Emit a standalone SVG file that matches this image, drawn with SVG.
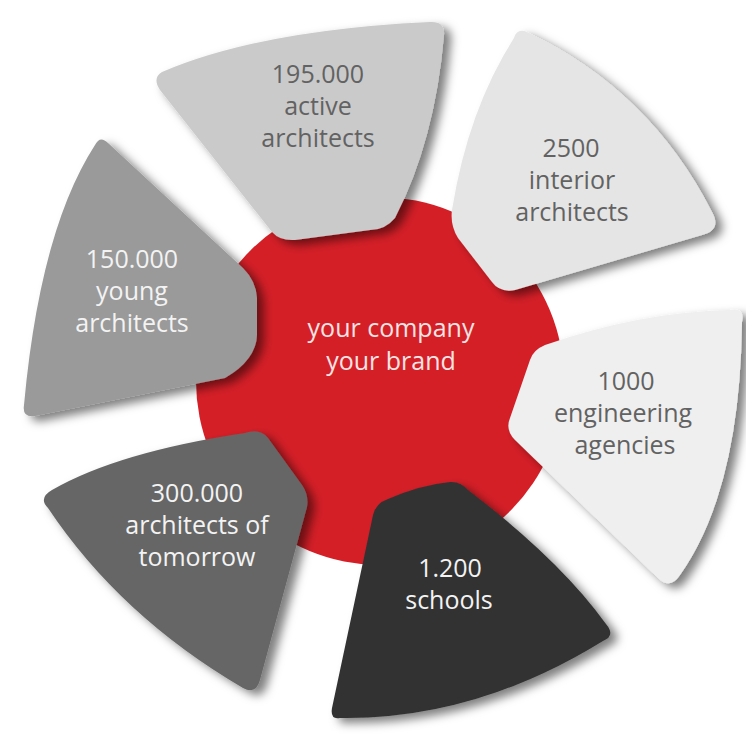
<svg xmlns="http://www.w3.org/2000/svg" width="746" height="734" viewBox="0 0 746 734">
<defs>
<filter id="sh" x="-20%" y="-20%" width="140%" height="140%">
<feDropShadow dx="7" dy="5" stdDeviation="5" flood-color="#000" flood-opacity="0.5"/>
</filter>
<style>
text{font-family:"Open Sans","Liberation Sans",sans-serif;font-size:25px;font-weight:500;text-anchor:middle}
.dk{fill:#626262}
.lt{fill:#f3f3f3}
.ct{fill:#f7e4e4}
</style>
</defs>
<rect width="746" height="734" fill="#ffffff"/>
<g id="center">
<circle cx="380" cy="381" r="184" fill="#d51f27"/>
<text class="ct" x="391" y="337">your company</text>
<text class="ct" x="391" y="370">your brand</text>
</g>
<g id="connectors"></g>
<g id="petal-active">
<path filter="url(#sh)" fill="#cacaca" d="M162,72 Q260,30 430,22 Q445,21 444,35 Q435,140 395,218 Q385,230 370,230 L295,240 Q280,241 272,232 L160,90 Q152,78 162,72 Z"/>
<text class="dk" x="318" y="83">195.000</text>
<text class="dk" x="318" y="115">active</text>
<text class="dk" x="318" y="147">architects</text>
</g>
<g id="petal-interior">
<path filter="url(#sh)" fill="#e5e5e5" d="M527,32 Q650,90 712,212 Q722,230 702,235 L515,290 Q500,293 492,282 L458,238 Q450,225 452,210 Q468,110 514,38 Q517,28 527,32 Z"/>
<text class="dk" x="571" y="157">2500</text>
<text class="dk" x="572" y="189">interior</text>
<text class="dk" x="572" y="221">architects</text>
</g>
<g id="petal-engineering">
<path filter="url(#sh)" fill="#efefef" d="M545,345 Q640,312 730,310 Q745,307 742,322 Q740,490 680,575 Q670,590 658,578 L515,440 Q505,430 510,418 L530,360 Q533,350 545,345 Z"/>
<text class="dk" x="626" y="390">1000</text>
<text class="dk" x="623" y="422">engineering</text>
<text class="dk" x="625" y="454">agencies</text>
</g>
<g id="petal-schools">
<path filter="url(#sh)" fill="#333333" d="M388,499 Q420,485 450,482 Q460,481 468,490 Q560,560 606,624 Q616,636 603,641 Q475,720 340,718 Q330,720 332,708 L373,515 Q376,503 388,499 Z"/>
<text class="lt" x="450" y="577">1.200</text>
<text class="lt" x="449" y="609">schools</text>
</g>
<g id="petal-tomorrow">
<path filter="url(#sh)" fill="#666666" d="M52,490 Q118,452 245,433 Q260,428 268,438 L302,485 Q309,495 307,507 L260,680 Q256,695 243,688 Q120,616 48,508 Q38,498 52,490 Z"/>
<text class="lt" x="197" y="502">300.000</text>
<text class="lt" x="197" y="534">architects of</text>
<text class="lt" x="197" y="566">tomorrow</text>
</g>
<g id="petal-young">
<path filter="url(#sh)" fill="#9a9a9a" d="M108,143 L243,268 Q256,281 257,298 L257,335 Q256,360 225,378 L35,416 Q22,418 24,405 Q40,230 95,145 Q100,135 108,143 Z"/>
<text class="lt" x="132" y="268">150.000</text>
<text class="lt" x="132" y="300">young</text>
<text class="lt" x="132" y="332">architects</text>
</g>
</svg>
